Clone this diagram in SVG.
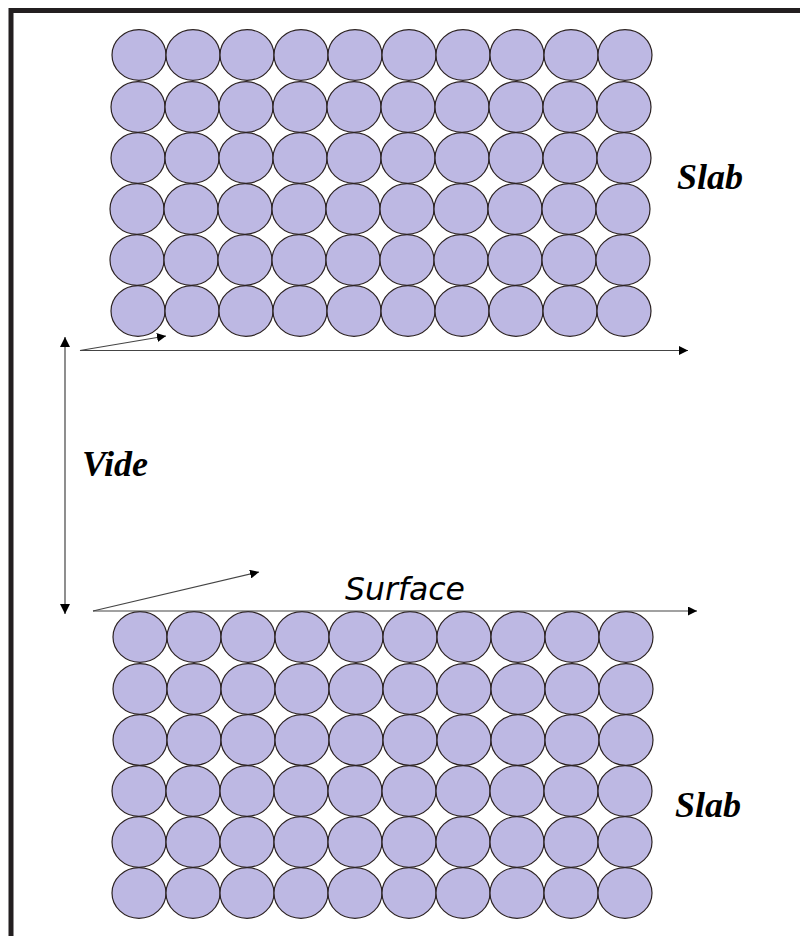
<svg xmlns="http://www.w3.org/2000/svg" xmlns:xlink="http://www.w3.org/1999/xlink" width="800" height="936" viewBox="0 0 800 936">
  <style>
    .frame { fill: none; stroke: #231f20; stroke-width: 5; }
    .atom { fill: #bdb8e3; stroke: #2b2222; stroke-width: 1.2; }
    .axis { fill: none; stroke: #444; stroke-width: 1.2; }
    .label { font-family: "Liberation Serif", "Times New Roman", serif; font-weight: bold; font-style: italic; font-size: 36px; fill: #000; }
    .surf { font-family: "DejaVu Sans", "Liberation Sans", sans-serif; font-style: italic; font-size: 31.5px; fill: #000; }
  </style>
  <defs>
    <marker id="head" viewBox="0 0 10 10" refX="10" refY="5" markerWidth="9" markerHeight="9" markerUnits="userSpaceOnUse" orient="auto">
      <path d="M0,0 L10,5 L0,10 Z" fill="#000"/>
    </marker>
    <marker id="headBig" viewBox="0 0 10 10" refX="10" refY="5" markerWidth="10" markerHeight="10" markerUnits="userSpaceOnUse" orient="auto-start-reverse">
      <path d="M0,0 L10,5 L0,10 Z" fill="#000"/>
    </marker>
    <ellipse id="a" rx="27" ry="25.3" class="atom"/>
    <!-- one row of ten atoms, 54 px apart -->
    <g id="row">
      <use xlink:href="#a" x="0"/>
      <use xlink:href="#a" x="54"/>
      <use xlink:href="#a" x="108"/>
      <use xlink:href="#a" x="162"/>
      <use xlink:href="#a" x="216"/>
      <use xlink:href="#a" x="270"/>
      <use xlink:href="#a" x="324"/>
      <use xlink:href="#a" x="378"/>
      <use xlink:href="#a" x="432"/>
      <use xlink:href="#a" x="486"/>
    </g>
  </defs>

  <rect width="800" height="936" fill="#fff"/>

  <!-- outer frame: top and left edges -->
  <path class="frame" d="M11,940 L11,10.5 L805,10.5"/>

  <!-- upper slab -->
  <g id="slab-top">
    <use xlink:href="#row" x="139" y="55"/>
    <use xlink:href="#row" x="138" y="107"/>
    <use xlink:href="#row" x="138" y="158"/>
    <use xlink:href="#row" x="137" y="209"/>
    <use xlink:href="#row" x="137" y="260"/>
    <use xlink:href="#row" x="138" y="311"/>
  </g>

  <!-- lower slab -->
  <g id="slab-bottom">
    <use xlink:href="#row" x="140" y="637"/>
    <use xlink:href="#row" x="140" y="689"/>
    <use xlink:href="#row" x="140" y="740"/>
    <use xlink:href="#row" x="139" y="791"/>
    <use xlink:href="#row" x="139" y="842"/>
    <use xlink:href="#row" x="139" y="893"/>
  </g>

  <!-- axes and vacuum gap -->
  <g id="connectors">
    <line class="axis" x1="65" y1="337" x2="65" y2="614" marker-start="url(#headBig)" marker-end="url(#headBig)"/>
    <line class="axis" x1="80" y1="350.5" x2="688" y2="350.5" marker-end="url(#head)"/>
    <line class="axis" x1="80" y1="350.5" x2="166" y2="336" marker-end="url(#head)"/>
    <line class="axis" x1="93" y1="611" x2="697" y2="611" marker-end="url(#head)"/>
    <line class="axis" x1="93" y1="611" x2="259" y2="572" marker-end="url(#head)"/>
  </g>

  <g id="labels">
    <text class="label" x="677" y="189">Slab</text>
    <text class="label" x="675" y="817">Slab</text>
    <text class="label" x="82" y="476">Vide</text>
    <text class="surf" x="345" y="600">Surface</text>
  </g>
</svg>
